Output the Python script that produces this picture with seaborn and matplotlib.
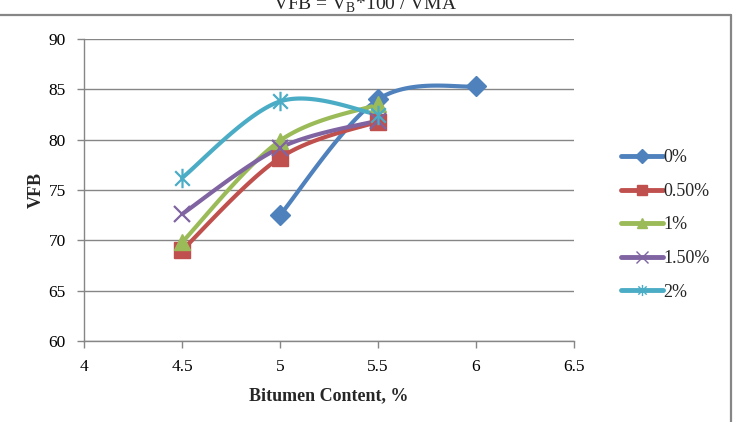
import numpy as np
import pandas as pd
import matplotlib
matplotlib.use("Agg")
import matplotlib.pyplot as plt
from matplotlib.lines import Line2D
from matplotlib.path import Path
import seaborn as sns

# ---- data ----
series_names = ["0%", "0.50%", "1%", "1.50%", "2%"]
x_0 = [5.0, 5.5, 6.0]
y_0 = [72.5, 84.0, 85.3]
x_05 = [4.5, 5.0, 5.5]
y_05 = [69.0, 78.2, 81.8]
x_1 = [4.5, 5.0, 5.5]
y_1 = [69.8, 79.9, 83.5]
x_15 = [4.5, 5.0, 5.5]
y_15 = [72.6, 79.2, 81.9]
x_2 = [4.5, 5.0, 5.5]
y_2 = [76.2, 83.8, 82.5]
x_ticks = [4, 4.5, 5, 5.5, 6, 6.5]
y_ticks = [60, 65, 70, 75, 80, 85, 90]

xs = [x_0, x_05, x_1, x_15, x_2]
ys = [y_0, y_05, y_1, y_15, y_2]
colors = ["#4F81BD", "#C0504D", "#9BBB59", "#8064A2", "#4BACC6"]

star = Path([(0, -1), (0, 1), (-0.75, -0.75), (0.75, 0.75), (-0.75, 0.75), (0.75, -0.75)],
            [Path.MOVETO, Path.LINETO, Path.MOVETO, Path.LINETO, Path.MOVETO, Path.LINETO])
markers = ["D", "s", "^", "x", star]
msizes = [10, 11, 11, 12, 14]


def smooth(x, y, n=40):
    # Excel-like Bezier smoothing through the points
    p = np.column_stack([x, y]).astype(float)
    pts = np.vstack([p[0], p, p[-1]])
    out = []
    t = np.linspace(0, 1, n)[:, None]
    for i in range(1, len(pts) - 2):
        p0, p1 = pts[i], pts[i + 1]
        c1 = p0 + (pts[i + 1] - pts[i - 1]) / 6
        c2 = p1 - (pts[i + 2] - pts[i]) / 6
        seg = ((1 - t) ** 3) * p0 + 3 * ((1 - t) ** 2) * t * c1 + 3 * (1 - t) * t ** 2 * c2 + t ** 3 * p1
        out.append(seg)
    seg = np.vstack(out)
    return seg[:, 0], seg[:, 1]


sns.set_theme(style="white")
plt.rcParams["font.family"] = ["Liberation Serif", "DejaVu Serif"]
plt.rcParams["mathtext.fontset"] = "custom"
plt.rcParams["mathtext.rm"] = "Liberation Serif"

fig = plt.figure(figsize=(7.34, 4.22), dpi=100)
ax = fig.add_axes([84 / 734, 1 - 341 / 422, 490 / 734, 302 / 422])

grid_c = "#868686"
for i in range(5):
    sx, sy = smooth(xs[i], ys[i])
    df = pd.DataFrame({"x": sx, "y": sy})
    sns.lineplot(data=df, x="x", y="y", sort=False, estimator=None, ax=ax,
                 color=colors[i], lw=3.0, zorder=3)
for i in range(5):
    dfp = pd.DataFrame({"x": xs[i], "y": ys[i]})
    if i >= 3:
        ax.plot(dfp.x, dfp.y, ls="none", marker=markers[i], ms=msizes[i],
                mec=colors[i], mew=1.6, color=colors[i], zorder=4)
    else:
        ax.plot(dfp.x, dfp.y, ls="none", marker=markers[i], ms=msizes[i],
                mec=colors[i], mfc=colors[i], color=colors[i], zorder=4)

ax.set_xlim(4, 6.5)
ax.set_ylim(60, 90)
ax.set_xticks(x_ticks)
ax.set_xticklabels([f"{v:g}" for v in x_ticks])
ax.set_yticks(y_ticks)
ax.set_yticklabels([f"{v:g}" for v in y_ticks])
ax.yaxis.grid(True, color=grid_c, lw=1.0)
ax.xaxis.grid(False)
ax.set_axisbelow(True)
for s in ["top", "right"]:
    ax.spines[s].set_visible(False)
for s in ["left", "bottom"]:
    ax.spines[s].set_color(grid_c)
    ax.spines[s].set_linewidth(1.0)
ax.tick_params(axis="both", which="major", direction="out", length=5, width=1.0,
               color=grid_c, labelsize=12.5, labelcolor="black", left=True, bottom=True)
ax.tick_params(axis="y", pad=8)
ax.tick_params(axis="x", pad=8)
ax.set_xlabel("Bitumen Content, %", fontsize=13, fontweight="bold", labelpad=9)
ax.set_ylabel("VFB", fontsize=13, fontweight="bold", labelpad=3)

handles = []
for i in range(5):
    if i >= 3:
        h = Line2D([], [], color=colors[i], lw=3.5, marker=markers[i], ms=8, mew=1, mec=colors[i])
    else:
        h = Line2D([], [], color=colors[i], lw=3.5, marker=markers[i], ms=7, mec=colors[i], mfc=colors[i])
    handles.append(h)
fig.legend(handles, series_names, loc="upper left", bbox_to_anchor=(614 / 734, 1 - 142 / 422),
           frameon=False, fontsize=13, handlelength=2.3, handletextpad=0.05, labelspacing=0.92,
           borderaxespad=0)

fig.text(365 / 734, 1 - 10 / 422, r"VFB = V$_\mathrm{B}$*100 / VMA", ha="center", va="baseline",
         fontsize=14)

# chart border
fig.add_artist(Line2D([0, 731 / 734], [1 - 15 / 422, 1 - 15 / 422], transform=fig.transFigure,
                      color=grid_c, lw=1.6))
fig.add_artist(Line2D([731 / 734, 731 / 734], [1 - 15 / 422, 0], transform=fig.transFigure,
                      color=grid_c, lw=1.6))

fig.savefig("out.png", dpi=100)
